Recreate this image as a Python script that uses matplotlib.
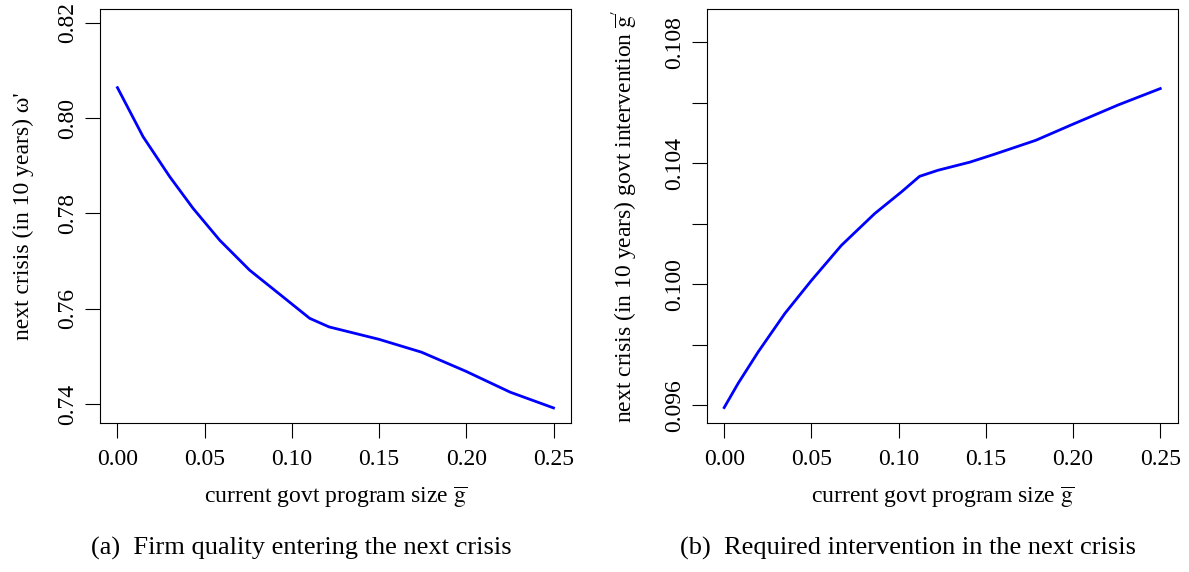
import matplotlib

matplotlib.use("Agg")
import matplotlib.pyplot as plt  # noqa: E402

plt.rcParams["font.family"] = ["Liberation Serif", "DejaVu Serif"]
plt.rcParams["mathtext.fontset"] = "stix"
plt.rcParams["axes.linewidth"] = 0.8

# (a) firm quality entering the next crisis
g_a = [0.0, 0.0147, 0.0300, 0.0433, 0.0586, 0.0758, 0.0949, 0.1102, 0.1213,
       0.1499, 0.1743, 0.1997, 0.2252, 0.25]
omega_next = [0.8064, 0.7961, 0.7877, 0.7811, 0.7744, 0.7681, 0.7625, 0.7580,
              0.7562, 0.7536, 0.7509, 0.7469, 0.7425, 0.7392]

# (b) required intervention in the next crisis
g_b = [0.0, 0.0080, 0.0195, 0.0348, 0.0500, 0.0672, 0.0863, 0.1015, 0.1120,
       0.1225, 0.1409, 0.1549, 0.1786, 0.1990, 0.2259, 0.25]
gbar_next = [0.09593, 0.09673, 0.09777, 0.09904, 0.10013, 0.10129, 0.10234,
             0.10305, 0.10357, 0.10377, 0.10404, 0.10430, 0.10476, 0.10527,
             0.10593, 0.10647]

x_ticks = [0.00, 0.05, 0.10, 0.15, 0.20, 0.25]
x_labels = ["0.00", "0.05", "0.10", "0.15", "0.20", "0.25"]
ya_ticks = [0.74, 0.76, 0.78, 0.80, 0.82]
ya_labels = ["0.74", "0.76", "0.78", "0.80", "0.82"]
yb_ticks = [0.096, 0.098, 0.100, 0.102, 0.104, 0.106, 0.108]
yb_labels = ["0.096", "", "0.100", "", "0.104", "", "0.108"]

FS = 17
xlab = r"current govt program size $\overline{\mathrm{g}}$"

fig = plt.figure(figsize=(11.89, 5.72), dpi=100)
ax1 = fig.add_axes([0.0841, 0.2610, 0.3961, 0.7233])
ax2 = fig.add_axes([0.5944, 0.2610, 0.3961, 0.7233])


def style(ax, xt, xl, yt, yl, ylim):
    ax.set_xlim(-0.01, 0.26)
    ax.set_ylim(*ylim)
    ax.set_xticks(xt)
    ax.set_xticklabels(xl)
    ax.set_yticks(yt)
    ax.set_yticklabels(yl)
    ax.tick_params(axis="both", direction="out", length=10.6, width=0.8,
                   labelsize=FS, color="black")
    ax.tick_params(axis="x", pad=8)
    ax.tick_params(axis="y", pad=5, labelrotation=90)
    for lbl in ax.get_yticklabels():
        lbl.set_va("center")
    ax.set_xlabel(xlab, fontsize=FS, va="center")
    ax.xaxis.set_label_coords(0.5, -0.18)


ax1.plot(g_a, omega_next, color="#0000ff", lw=2.0)
style(ax1, x_ticks, x_labels, ya_ticks, ya_labels, (0.7361, 0.8229))
ax1.set_ylabel("next crisis (in 10 years) ω'", fontsize=FS, va="center")
ax1.yaxis.set_label_coords(-0.1635, 0.5)

ax2.plot(g_b, gbar_next, color="#0000ff", lw=2.0)
style(ax2, x_ticks, x_labels, yb_ticks, yb_labels, (0.09543, 0.10910))
ax2.set_ylabel(r"next crisis (in 10 years) govt intervention $\overline{\mathrm{g}}^{\prime}$",
               fontsize=FS, va="center")
ax2.yaxis.set_label_coords(-0.1735, 0.5)

fig.text(0.253, 1 - 548 / 572, "(a)  Firm quality entering the next crisis",
         fontsize=19, ha="center", va="center")
fig.text(0.764, 1 - 548 / 572, "(b)  Required intervention in the next crisis",
         fontsize=19, ha="center", va="center")

fig.savefig("out.png", dpi=100)
